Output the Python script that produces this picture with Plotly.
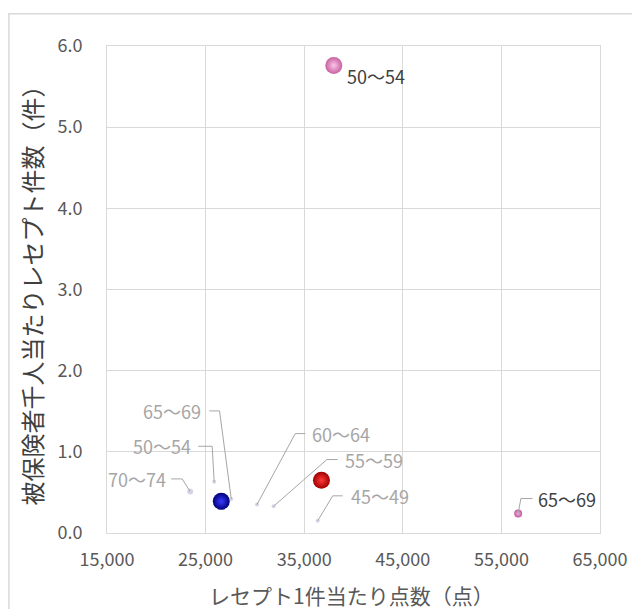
import plotly.graph_objects as go

# --- data ---
main_labels = ["50～54", "", "", "65～69"]
main_x = [38000, 26590, 36750, 56700]
main_y = [5.76, 0.39, 0.65, 0.24]

gray_labels = ["70～74", "50～54", "65～69", "60～64", "55～59", "45～49"]
gray_x = [23435, 25870, 27600, 30210, 31900, 36370]
gray_y = [0.51, 0.63, 0.42, 0.35, 0.33, 0.15]

x_ticks = [15000, 25000, 35000, 45000, 55000, 65000]
y_ticks = [0.0, 1.0, 2.0, 3.0, 4.0, 5.0, 6.0]

x_title = "レセプト1件当たり点数（点）"
y_title = "被保険者千人当たりレセプト件数（件）"

# --- styles ---
FONT = "Noto Sans CJK JP"
# color = edge colour, grad = centre colour (plotly radial gradient)
main_styles = [
    dict(size=17, color="#c8609f", grad="#f9c6ea"),
    dict(size=17, color="#00007a", grad="#3a3aff"),
    dict(size=17, color="#a00000", grad="#ff3a3a"),
    dict(size=8, color="#c0589c", grad="#f2b0dc"),
]
gray_sizes = [6, 4, 4, 4, 4, 4]
GRAY_DOT = "#c6c0da"
GRAY_TXT = "#a6a6a6"
LEADER = "#a6a6a6"

# label placement (pixel offsets relative to point): leader path pts, label anchor
main_lab = {
    0: dict(path=None, dx=11, dy=-11, anchor="left", color="#404040"),
    3: dict(path=[(2.7, 15), (14.4, 15)], dx=18, dy=15, anchor="left", color="#404040"),
}
gray_lab = [
    dict(path=[(-8, 12.7), (-19, 12.7)], dx=-22, dy=12.7, anchor="right"),
    dict(path=[(-2, 35.6), (-16, 35.6)], dx=-21, dy=35.6, anchor="right"),
    dict(path=[(-11.7, 88), (-22, 88)], dx=-28, dy=88, anchor="right"),
    dict(path=[(38.3, 71), (48.3, 71)], dx=53, dy=71, anchor="left"),
    dict(path=[(53.3, 46.7), (64, 46.7)], dx=69, dy=46.7, anchor="left"),
    dict(path=[(15, 25), (25, 25)], dx=31, dy=25, anchor="left"),
]

fig = go.Figure()

fig.add_trace(go.Scatter(
    x=gray_x, y=gray_y, mode="markers",
    marker=dict(size=gray_sizes, color=GRAY_DOT, line=dict(width=0)),
    showlegend=False, hoverinfo="skip"))

for i in range(len(main_x)):
    s = main_styles[i]
    fig.add_trace(go.Scatter(
        x=[main_x[i]], y=[main_y[i]], mode="markers",
        marker=dict(size=s["size"], color=s["color"], line=dict(width=0),
                    gradient=dict(type="radial", color=s["grad"])),
        showlegend=False, hoverinfo="skip"))

shapes = []
annotations = []

def add_label(xv, yv, text, spec, color, size):
    if spec["path"]:
        p = "M0,0 " + " ".join("L%.1f,%.1f" % pt for pt in spec["path"])
        shapes.append(dict(type="path", xref="x", yref="y", xsizemode="pixel",
                           ysizemode="pixel", xanchor=xv, yanchor=yv, path=p,
                           line=dict(color=LEADER, width=1)))
    annotations.append(dict(x=xv, y=yv, xref="x", yref="y", text=text,
                            showarrow=False, xanchor=spec["anchor"], yanchor="middle",
                            xshift=spec["dx"], yshift=spec["dy"],
                            font=dict(family=FONT, size=size, color=color)))

for i, spec in main_lab.items():
    add_label(main_x[i], main_y[i], main_labels[i], spec, spec["color"], 18)

for i, spec in enumerate(gray_lab):
    add_label(gray_x[i], gray_y[i], gray_labels[i], spec, GRAY_TXT, 18)

# outer chart border
shapes.append(dict(type="rect", xref="paper", yref="paper", x0=-0.199, x1=1.3,
                   y0=-0.3, y1=1.066, line=dict(color="#d9d9d9", width=1.5), layer="below"))

annotations.append(dict(text=x_title, xref="paper", yref="paper", x=0.495, y=-0.127,
                        xanchor="center", yanchor="middle", showarrow=False,
                        font=dict(family=FONT, size=21, color="#595959")))
annotations.append(dict(text=y_title, xref="paper", yref="paper", x=-0.154, y=0.5,
                        xanchor="center", yanchor="middle", showarrow=False, textangle=-90,
                        font=dict(family=FONT, size=24, color="#404040")))

# page body has an 8px margin, so the figure is 632x601 and margins are shifted
fig.update_layout(
    width=632, height=601,
    margin=dict(l=99, r=40, t=38, b=76),
    paper_bgcolor="white", plot_bgcolor="white",
    shapes=shapes, annotations=annotations,
    xaxis=dict(range=[15000, 65000], tickvals=x_ticks,
               ticktext=[f"{v:,}" for v in x_ticks],
               showgrid=True, gridcolor="#d9d9d9", gridwidth=1,
               showline=True, linecolor="#d9d9d9", linewidth=1, mirror=True,
               zeroline=False, ticks="", ticklabelstandoff=10,
               tickfont=dict(family=FONT, size=18, color="#595959")),
    yaxis=dict(range=[0, 6], tickvals=y_ticks,
               ticktext=[f"{v:.1f}" for v in y_ticks],
               showgrid=True, gridcolor="#d9d9d9", gridwidth=1,
               showline=True, linecolor="#d9d9d9", linewidth=1, mirror=True,
               zeroline=False, ticks="", ticklabelstandoff=20,
               tickfont=dict(family=FONT, size=18, color="#595959")),
)

fig.write_html("out.html")
